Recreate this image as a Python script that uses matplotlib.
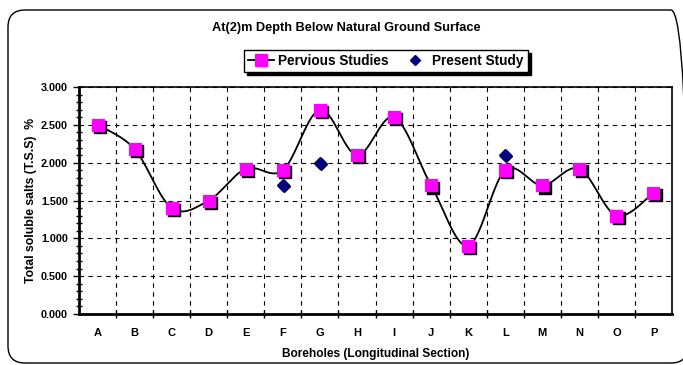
import numpy as np
import matplotlib
matplotlib.use("Agg")
import matplotlib.pyplot as plt
import matplotlib.ticker as mtick
from matplotlib.transforms import offset_copy
from matplotlib.patches import FancyBboxPatch

plt.rcParams["font.family"] = ["Liberation Sans", "DejaVu Sans"]
plt.rcParams["font.weight"] = "bold"

boreholes = ["A", "B", "C", "D", "E", "F", "G", "H", "I", "J", "K", "L", "M", "N", "O", "P"]
previous = [2.50, 2.18, 1.40, 1.50, 1.92, 1.90, 2.70, 2.10, 2.60, 1.70, 0.90, 1.90, 1.70, 1.92, 1.30, 1.60]
present_idx = ["F", "G", "L"]
present = [1.70, 2.00, 2.10]

MAGENTA = "#ff00ff"
NAVY = "#000080"


def smooth_curve(xs, ys, n=30, tension=0.5):
    """Cardinal spline through the points, like a spreadsheet 'smoothed line'."""
    xs = np.asarray(xs, float)
    ys = np.asarray(ys, float)
    px = np.concatenate([[xs[0]], xs, [xs[-1]]])
    py = np.concatenate([[ys[0]], ys, [ys[-1]]])
    out_x, out_y = [], []
    t = np.linspace(0, 1, n)
    h00 = 2 * t**3 - 3 * t**2 + 1
    h10 = t**3 - 2 * t**2 + t
    h01 = -2 * t**3 + 3 * t**2
    h11 = t**3 - t**2
    for i in range(1, len(px) - 2):
        mx0 = tension * (px[i + 1] - px[i - 1])
        my0 = tension * (py[i + 1] - py[i - 1])
        mx1 = tension * (px[i + 2] - px[i])
        my1 = tension * (py[i + 2] - py[i])
        out_x.append(h00 * px[i] + h10 * mx0 + h01 * px[i + 1] + h11 * mx1)
        out_y.append(h00 * py[i] + h10 * my0 + h01 * py[i + 1] + h11 * my1)
    return np.concatenate(out_x), np.concatenate(out_y)


fig = plt.figure(figsize=(6.83, 3.65), dpi=100)
ax = fig.add_axes([79 / 683, 1 - 314 / 365, (672 - 79) / 683, (314 - 87) / 365])

# outer rounded chart frame
frame = FancyBboxPatch((8 / 683, 2 / 365), 680 / 683, 353 / 365,
                       boxstyle="round,pad=0,rounding_size=0.025",
                       transform=fig.transFigure, fill=False,
                       edgecolor="black", linewidth=1.0, mutation_aspect=683 / 365)
fig.patches.append(frame)

x = np.arange(len(boreholes))
sx, sy = smooth_curve(x, previous)
ax.plot(sx, sy, color="black", linewidth=1.3, zorder=3)

# markers with a hard black drop shadow
shadow_tr = offset_copy(ax.transData, fig=fig, x=1.6, y=-1.6, units="points")
ax.plot(x, previous, linestyle="none", marker="s", markersize=8.5,
        markerfacecolor="black", markeredgecolor="black", zorder=4, transform=shadow_tr)
ax.plot(x, previous, linestyle="none", marker="s", markersize=8.5,
        markerfacecolor=MAGENTA, markeredgecolor=MAGENTA, zorder=5)
px = [boreholes.index(b) for b in present_idx]
shadow_tr2 = offset_copy(ax.transData, fig=fig, x=0.8, y=-0.8, units="points")
ax.plot(px, present, linestyle="none", marker="D", markersize=6.5,
        markerfacecolor="black", markeredgecolor="black", zorder=4, transform=shadow_tr2)
ax.plot(px, present, linestyle="none", marker="D", markersize=6.5,
        markerfacecolor=NAVY, markeredgecolor=NAVY, zorder=5)

ax.set_xlim(-0.5, len(boreholes) - 0.5)
ax.set_ylim(0, 3.0)

# category boundaries carry the ticks and vertical grid; labels sit at centres
ax.set_xticks(np.arange(0.5, len(boreholes) - 0.5, 1.0))
ax.set_xticklabels([])
ax.set_xticks(x, minor=True)
ax.set_xticklabels(boreholes, minor=True, fontsize=8, fontweight="bold")
ax.tick_params(axis="x", which="major", direction="inout", length=6, width=1)
ax.tick_params(axis="x", which="minor", length=0, pad=10)

ax.yaxis.set_major_locator(mtick.MultipleLocator(0.5))
ax.yaxis.set_minor_locator(mtick.MultipleLocator(0.1))
ax.yaxis.set_major_formatter(mtick.FormatStrFormatter("%.3f"))
ax.tick_params(axis="y", which="major", direction="out", length=4, width=1, labelsize=7.8, pad=4)
ax.tick_params(axis="y", which="minor", direction="inout", length=4, width=1)
for lbl in ax.get_yticklabels():
    lbl.set_fontweight("bold")

ax.grid(True, which="major", color="black", linestyle=(0, (4, 4)), linewidth=0.8)
for side in ["left", "bottom"]:
    ax.spines[side].set_linewidth(2.0)
for side in ["top", "right"]:
    ax.spines[side].set_linewidth(1.2)

ax.set_ylabel("Total soluble salts (T.S.S)  %", fontsize=8.8, fontweight="bold", labelpad=3)
ax.set_xlabel("Boreholes (Longitudinal Section)", fontsize=8.6, fontweight="bold", labelpad=7)

fig.text(346 / 683, 1 - 28 / 365, "At(2)m Depth Below Natural Ground Surface",
         ha="center", va="center", fontsize=9.2, fontweight="bold")

# legend box with drop shadow
h1 = ax.plot([], [], color="black", linewidth=1.3, marker="s", markersize=8,
             markerfacecolor=MAGENTA, markeredgecolor=MAGENTA)[0]
h2 = ax.plot([], [], linestyle="none", marker="D", markersize=5.5,
             markerfacecolor=NAVY, markeredgecolor=NAVY)[0]
leg = fig.legend([h1, h2], ["Pervious Studies", "Present Study"], ncol=2,
                 loc="center", bbox_to_anchor=(386 / 683, 1 - 61 / 365),
                 frameon=True, fancybox=False,
                 shadow={"color": "black", "alpha": 1.0, "ox": 2, "oy": -2},
                 handlelength=1.9, handletextpad=0.3, columnspacing=1.0,
                 borderpad=0.3, borderaxespad=0,
                 prop={"weight": "bold", "size": 9.8})
leg.get_frame().set_edgecolor("black")
leg.get_frame().set_linewidth(1.0)

fig.savefig("out.png", dpi=100)
